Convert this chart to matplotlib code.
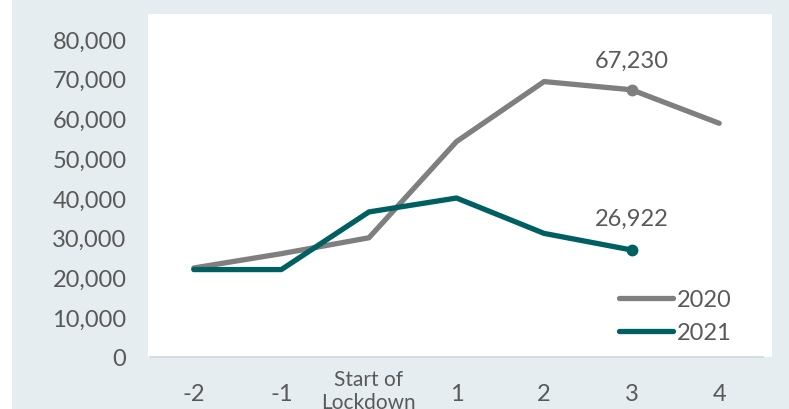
import matplotlib.pyplot as plt
from matplotlib.patches import Rectangle
from matplotlib.ticker import FuncFormatter
from matplotlib.lines import Line2D

# data
weeks = ["-2", "-1", "Start of\nLockdown", "1", "2", "3", "4"]
cases_2020 = [22400, 26000, 30000, 54200, 69300, 67230, 58800]
cases_2021 = [22000, 22000, 36500, 40000, 31100, 26922]

GRAY = "#7f7f7f"
TEAL = "#005f60"
BG = "#e5edf0"
TXT = "#595959"

plt.rcParams["font.family"] = ["Lato", "DejaVu Sans"]

fig = plt.figure(figsize=(7.89, 4.10), dpi=100, facecolor="white")
fig.patches.append(Rectangle((12 / 789, 0), 1, 1, transform=fig.transFigure,
                             facecolor=BG, edgecolor="none", zorder=-2))
fig.patches.append(Rectangle((148 / 789, 52 / 410), (772 - 148) / 789, (358 - 15) / 410,
                             transform=fig.transFigure, facecolor="white",
                             edgecolor="none", zorder=-1))

ax = fig.add_axes([150 / 789, 52 / 410, (763 - 150) / 789, (358 - 15) / 410])
ax.set_facecolor("white")

x20 = list(range(len(cases_2020)))
x21 = list(range(len(cases_2021)))
ax.plot(x20, cases_2020, color=GRAY, lw=3.8, solid_capstyle="round", label="2020")
ax.plot(x21, cases_2021, color=TEAL, lw=3.8, solid_capstyle="round", label="2021")
ax.plot(x20[5], cases_2020[5], "o", color=GRAY, ms=7.5)
ax.plot(x21[5], cases_2021[5], "o", color=TEAL, ms=7.5)

ax.annotate(f"{cases_2020[5]:,}", (x20[5], cases_2020[5]), xytext=(0, 14),
            textcoords="offset points", ha="center", va="bottom",
            fontsize=17, color=TXT)
ax.annotate(f"{cases_2021[5]:,}", (x21[5], cases_2021[5]), xytext=(0, 15),
            textcoords="offset points", ha="center", va="bottom",
            fontsize=17, color=TXT)

ax.set_xlim(-0.5, 6.5)
ax.set_ylim(0, 86300)
ax.set_yticks(range(0, 80001, 10000))
ax.yaxis.set_major_formatter(FuncFormatter(lambda v, p: f"{int(v):,}"))
ax.set_xticks(x20)
ax.set_xticklabels([w if "\n" not in w else "" for w in weeks])
# the two-line label sits higher than the others
for i, w in enumerate(weeks):
    if "\n" in w:
        ax.text(i, -0.098, w, transform=ax.get_xaxis_transform(), ha="center",
                va="center", fontsize=15, color=TXT, linespacing=1.2)

ax.tick_params(axis="y", length=0, pad=17, labelsize=17, labelcolor=TXT)
ax.tick_params(axis="x", length=0, pad=18.5, labelsize=17, labelcolor=TXT)

for s in ["top", "right", "left"]:
    ax.spines[s].set_visible(False)
ax.spines["bottom"].set_color("#d9d9d9")
ax.spines["bottom"].set_linewidth(1.3)

handles = [Line2D([], [], color=GRAY, lw=3.8, solid_capstyle="round"),
           Line2D([], [], color=TEAL, lw=3.8, solid_capstyle="round")]
ax.legend(handles, ["2020", "2021"], loc="lower right", bbox_to_anchor=(0.983, -0.022),
          frameon=False, fontsize=17, labelcolor=TXT, handlelength=2.3,
          handletextpad=0.15, labelspacing=0.5)

fig.savefig("out.png", dpi=100, facecolor=fig.get_facecolor())
